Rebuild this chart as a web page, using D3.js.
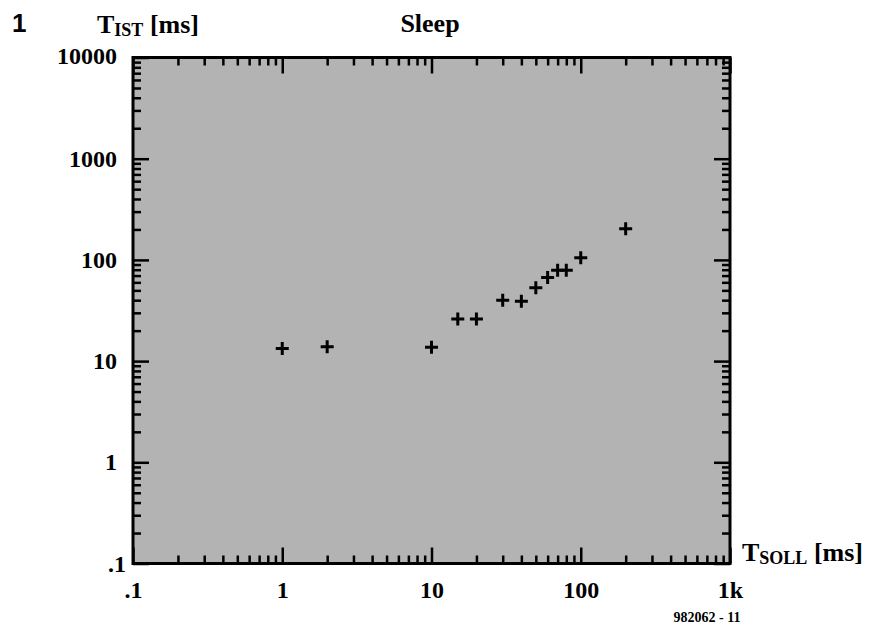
<!DOCTYPE html>
<meta charset="utf-8">
<script src="https://d3js.org/d3.v7.min.js"></script>
<style>
  body { margin: 0; background: #fff; }
  text { font-family: "Liberation Serif", "Times New Roman", serif; font-weight: bold; fill: #000; }
</style>
<body>
<div id="chart"></div>
<script>

// measured points (T_SOLL, T_IST), both in ms
var tSoll = [1, 2, 10, 15, 20, 30, 40, 50, 60, 70, 80, 100, 200];
var tIst  = [13.3, 13.9, 13.7, 26, 26, 40, 39, 53, 67, 79, 79, 105, 203];

var xTicks = [0.1, 1, 10, 100, 1000];
var xTickLabels = [".1", "1", "10", "100", "1k"];
var yTicks = [0.1, 1, 10, 100, 1000, 10000];
var yTickLabels = [".1", "1", "10", "100", "1000", "10000"];

var W = 874, H = 624;
var plotL = 133, plotR = 730, plotT = 57.5, plotB = 563.5;

var svg = d3.select("#chart")
  .append("svg")
    .attr("width", W)
    .attr("height", H);

var x = d3.scaleLog()
  .domain([0.1, 1000])
  .range([plotL, plotR]);

var y = d3.scaleLog()
  .domain([0.1, 10000])
  .range([plotB, plotT]);

// minor tick positions 2..9 in every decade
function minors(decades) {
  var out = [];
  decades.slice(0, -1).forEach(function(d) {
    for (var k = 2; k <= 9; k++) out.push(d * k);
  });
  return out;
}
var xMinor = minors(xTicks), yMinor = minors(yTicks);

// plot background
svg.append("rect")
  .attr("x", plotL).attr("y", plotT)
  .attr("width", plotR - plotL).attr("height", plotB - plotT)
  .attr("fill", "#b3b3b3");

// inward ticks on all four sides
function ticks(axis, vals, len, tr) {
  var g = svg.append("g")
    .attr("transform", tr)
    .call(axis.tickValues(vals).tickSize(-len).tickFormat(""));
  g.select(".domain").remove();
  g.selectAll("line").attr("stroke", "#000").attr("stroke-width", 2.5);
}
ticks(d3.axisBottom(x), xMinor, 8, "translate(0," + plotB + ")");
ticks(d3.axisBottom(x), xTicks, 16, "translate(0," + plotB + ")");
ticks(d3.axisTop(x), xMinor, 8, "translate(0," + plotT + ")");
ticks(d3.axisTop(x), xTicks, 16, "translate(0," + plotT + ")");
ticks(d3.axisLeft(y), yMinor, 8, "translate(" + plotL + ",0)");
ticks(d3.axisLeft(y), yTicks, 16, "translate(" + plotL + ",0)");
ticks(d3.axisRight(y), yMinor, 8, "translate(" + plotR + ",0)");
ticks(d3.axisRight(y), yTicks, 16, "translate(" + plotR + ",0)");

// frame
svg.append("rect")
  .attr("x", plotL).attr("y", plotT)
  .attr("width", plotR - plotL).attr("height", plotB - plotT)
  .attr("fill", "none")
  .attr("stroke", "#000")
  .attr("stroke-width", 3);

// tick labels
var xl = svg.append("g")
  .attr("transform", "translate(0," + plotB + ")")
  .call(d3.axisBottom(x).tickValues(xTicks).tickSize(0).tickPadding(17)
    .tickFormat(function(d, i) { return xTickLabels[i]; }));
xl.select(".domain").remove();
xl.selectAll("text").attr("font-size", 24).attr("font-family", null);

var yl = svg.append("g")
  .attr("transform", "translate(" + plotL + ",0)")
  .call(d3.axisLeft(y).tickValues(yTicks).tickSize(0).tickPadding(16)
    .tickFormat(function(d, i) { return yTickLabels[i]; }));
yl.select(".domain").remove();
yl.selectAll("text").attr("font-size", 24).attr("font-family", null);
// bottom label sits a little further right, top one a little higher
yl.selectAll("text").filter(function(d) { return d === 0.1; }).attr("x", -7);
yl.selectAll("text").filter(function(d) { return d === 10000; }).attr("y", -2);

// data crosses
svg.append("g")
  .selectAll("path")
  .data(tSoll)
  .join("path")
    .attr("transform", function(d, i) { return "translate(" + x(d) + "," + y(tIst[i]) + ")"; })
    .attr("d", "M-6.5,0H6.5M0,-6.5V6.5")
    .attr("stroke", "#000")
    .attr("stroke-width", 3)
    .attr("fill", "none");

// titles
svg.append("text")
  .attr("x", 12).attr("y", 32)
  .style("font-family", "'Liberation Sans', Arial, sans-serif")
  .attr("font-size", 26)
  .text("1");

var yt = svg.append("text").attr("x", 97).attr("y", 33).attr("font-size", 26);
yt.append("tspan").text("T");
yt.append("tspan").attr("font-size", 18).attr("dy", 3).text("IST");
yt.append("tspan").attr("dy", -3).text(" [ms]");

svg.append("text")
  .attr("x", 430).attr("y", 32)
  .attr("text-anchor", "middle")
  .attr("font-size", 26)
  .text("Sleep");

var xt = svg.append("text").attr("x", 742).attr("y", 561).attr("font-size", 26);
xt.append("tspan").text("T");
xt.append("tspan").attr("font-size", 18).attr("dy", 3).text("SOLL");
xt.append("tspan").attr("dy", -3).text(" [ms]");

svg.append("text")
  .attr("x", 707).attr("y", 622)
  .attr("text-anchor", "middle")
  .attr("font-size", 14)
  .text("982062 - 11");

</script>
</body>
